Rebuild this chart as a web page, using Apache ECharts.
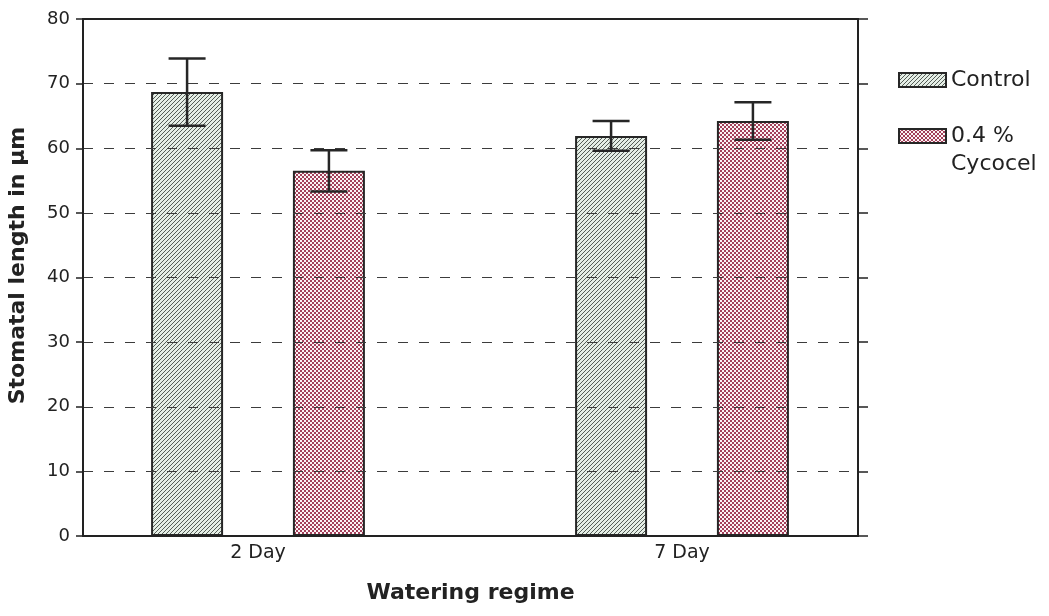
<!DOCTYPE html>
<html>
<head>
<meta charset="utf-8">
<script src="https://cdn.jsdelivr.net/npm/echarts@6/dist/echarts.min.js"></script>
<style>
  html, body { margin: 0; padding: 0; background: #ffffff; }
  #chart { width: 1049px; height: 616px; }
</style>
</head>
<body>
<div id="chart"></div>
<script>
// Stomatal length (µm) under two watering regimes, mean ± error
const categories = ['2 Day', '7 Day'];
const seriesNames = ['Control', '0.4 % Cycocel'];
const legendLabels = ['Control', '\n0.4 %\nCycocel'];
const controlMeans = [68.7, 61.9];
const controlErrors = [5.2, 2.3];
const cycocelMeans = [56.5, 64.2];
const cycocelErrors = [3.2, 2.9];
const yMin = 0;
const yMax = 80;
const yStep = 10;

const FONT = 'DejaVu Sans';
const INK = '#222222';
const BAR_W = 72;
const BAR_GAP = 0.97;

// small repeating tiles used as bar fills
function makeTile(size, draw) {
  const c = document.createElement('canvas');
  c.width = size; c.height = size;
  draw(c.getContext('2d'));
  return c;
}
const hatchTile = makeTile(4, ctx => {
  ctx.fillStyle = '#e5eee6';
  ctx.fillRect(0, 0, 4, 4);
  ctx.fillStyle = '#555d57';
  for (let i = 0; i < 4; i++) ctx.fillRect(i, 3 - i, 1, 1);
});
const checkTile = makeTile(4, ctx => {
  ctx.fillStyle = '#a3405a';
  ctx.fillRect(0, 0, 4, 4);
  ctx.fillStyle = '#fbf3f5';
  ctx.fillRect(0, 0, 2, 2);
  ctx.fillRect(2, 2, 2, 2);
});
const fills = [
  { image: hatchTile, repeat: 'repeat' },
  { image: checkTile, repeat: 'repeat' }
];

const means = [controlMeans, cycocelMeans];
const errors = [controlErrors, cycocelErrors];

const errorData = [];
means.forEach((arr, s) => {
  arr.forEach((m, i) => {
    errorData.push([i, m - errors[s][i], m + errors[s][i], s]);
  });
});

const chart = echarts.init(document.getElementById('chart'), null, { renderer: 'canvas' });

const axisLineStyle = { color: INK, width: 2 };

chart.setOption({
  backgroundColor: '#ffffff',
  animation: false,
  grid: [
    // frame with value scale and gridlines
    { left: 83, right: 191, top: 19, bottom: 80, outerBoundsMode: 'none' },
    // grid carrying the grouped bars
    { left: 46, right: 155, top: 19, bottom: 80, outerBoundsMode: 'none' }
  ],
  legend: {
    orient: 'vertical',
    left: 893,
    top: 61,
    itemWidth: 47,
    itemHeight: 14,
    itemGap: 0,
    icon: 'rect',
    data: seriesNames,
    formatter: name => legendLabels[seriesNames.indexOf(name)],
    textStyle: { fontFamily: FONT, fontSize: 22, lineHeight: 28, color: INK }
  },
  xAxis: [
    {
      gridIndex: 0, type: 'value', min: 0, max: 1, position: 'bottom',
      axisLine: { show: true, onZero: false, lineStyle: axisLineStyle },
      axisTick: { show: false }, axisLabel: { show: false }, splitLine: { show: false },
      name: 'Watering regime', nameLocation: 'middle', nameGap: 46,
      nameTextStyle: { fontFamily: FONT, fontSize: 22, fontWeight: 'bold', color: INK },
      zlevel: 1, z: 5
    },
    {
      gridIndex: 0, type: 'value', min: 0, max: 1, position: 'top',
      axisLine: { show: true, onZero: false, lineStyle: axisLineStyle },
      axisTick: { show: false }, axisLabel: { show: false }, splitLine: { show: false },
      zlevel: 1, z: 5
    },
    {
      gridIndex: 1, type: 'category', data: categories,
      axisLine: { show: false }, axisTick: { show: false }, splitLine: { show: false },
      axisLabel: { margin: 8, fontFamily: FONT, fontSize: 19, color: INK }
    }
  ],
  yAxis: [
    {
      gridIndex: 0, type: 'value', min: yMin, max: yMax, interval: yStep, position: 'left',
      axisLine: { show: true, onZero: false, lineStyle: axisLineStyle },
      axisTick: { show: true, inside: false, length: 7, lineStyle: { color: INK, width: 1.5 } },
      axisLabel: { margin: 13, fontFamily: FONT, fontSize: 18, color: INK },
      splitLine: { show: true, lineStyle: { color: '#3c3c3c', width: 1, type: [10, 11] } },
      name: 'Stomatal length in µm', nameLocation: 'middle', nameGap: 54, nameRotate: 90,
      nameTextStyle: { fontFamily: FONT, fontSize: 22, fontWeight: 'bold', color: INK, padding: [0, 0, 0, 24] },
      zlevel: 1, z: 5
    },
    {
      gridIndex: 0, type: 'value', min: yMin, max: yMax, interval: yStep, position: 'right',
      axisLine: { show: true, onZero: false, lineStyle: axisLineStyle },
      axisTick: { show: true, inside: false, length: 10, lineStyle: { color: INK, width: 1.5 } },
      axisLabel: { show: false }, splitLine: { show: false },
      zlevel: 1, z: 5
    },
    {
      gridIndex: 1, type: 'value', min: yMin, max: yMax, show: false,
      splitLine: { show: false }
    }
  ],
  series: [
    {
      name: seriesNames[0], type: 'bar', xAxisIndex: 2, yAxisIndex: 2,
      data: controlMeans, barWidth: BAR_W, barGap: (BAR_GAP * 100) + '%',
      itemStyle: { color: fills[0], borderColor: '#262626', borderWidth: 2 },
      z: 2
    },
    {
      name: seriesNames[1], type: 'bar', xAxisIndex: 2, yAxisIndex: 2,
      data: cycocelMeans, barWidth: BAR_W, barGap: (BAR_GAP * 100) + '%',
      itemStyle: { color: fills[1], borderColor: '#262626', borderWidth: 2 },
      z: 2
    },
    {
      type: 'custom', xAxisIndex: 2, yAxisIndex: 2,
      data: errorData,
      encode: { x: 0, y: [1, 2] },
      zlevel: 1, z: 10,
      silent: true,
      renderItem: (params, api) => {
        const cat = api.value(0);
        const s = api.value(3);
        const shift = BAR_W * (1 + BAR_GAP) / 2 * (s === 0 ? -1 : 1);
        const lo = api.coord([cat, api.value(1)]);
        const hi = api.coord([cat, api.value(2)]);
        const x = lo[0] + shift;
        const half = 18.5;
        const style = { stroke: '#262626', lineWidth: 2.5 };
        return {
          type: 'group',
          children: [
            { type: 'line', shape: { x1: x, y1: hi[1], x2: x, y2: lo[1] }, style },
            { type: 'line', shape: { x1: x - half, y1: hi[1], x2: x + half, y2: hi[1] }, style },
            { type: 'line', shape: { x1: x - half, y1: lo[1], x2: x + half, y2: lo[1] }, style }
          ]
        };
      }
    }
  ]
});
</script>
</body>
</html>
